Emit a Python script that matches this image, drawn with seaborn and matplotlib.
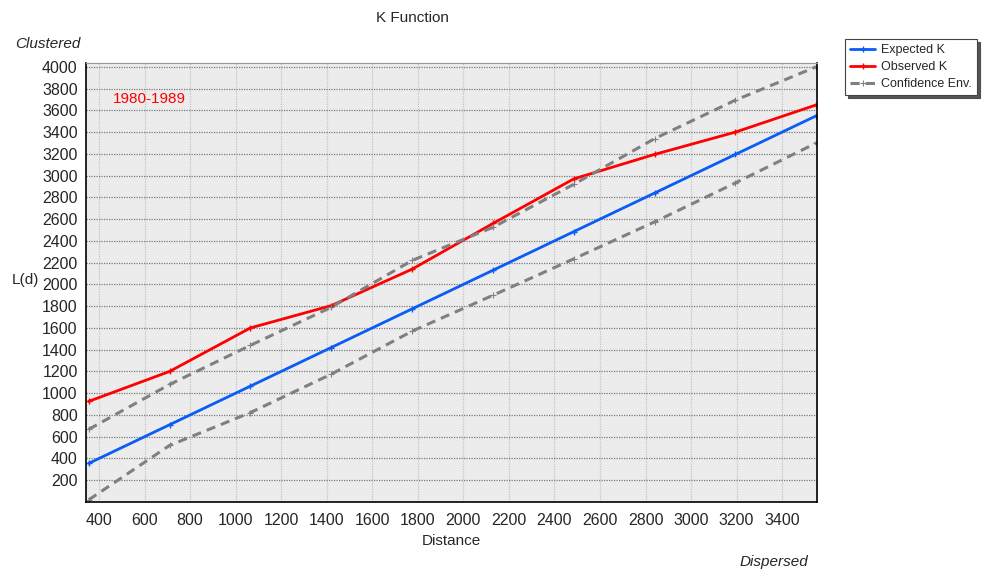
import numpy as np
import pandas as pd
import matplotlib
matplotlib.use("Agg")
import matplotlib.pyplot as plt
import seaborn as sns

# K function values
distance = [355, 710, 1065, 1420, 1775, 2130, 2485, 2840, 3195, 3550]
expected_k = [355, 710, 1065, 1420, 1775, 2130, 2485, 2840, 3195, 3550]
observed_k = [925, 1200, 1600, 1805, 2140, 2560, 2970, 3195, 3400, 3650]
upper_env = [668, 1080, 1440, 1790, 2220, 2525, 2920, 3340, 3694, 4000]
lower_env = [20, 520, 822, 1175, 1570, 1900, 2235, 2575, 2933, 3300]

xticks = list(range(400, 3401, 200))
yticks = list(range(200, 4001, 200))

sns.set_style("white")
plt.rcParams['font.family'] = ['Liberation Sans', 'DejaVu Sans']

fig = plt.figure(figsize=(9.89, 5.75), dpi=100)
ax = fig.add_axes([86/989, 1-502/575, (817-86)/989, (502-63)/575])
ax.set_facecolor('#ececec')

blue, red, gray = '#0a5cf5', '#ff0000', '#808080'
sns.lineplot(x=distance, y=expected_k, ax=ax, color=blue, lw=2,
             marker='+', markersize=5, mew=1, mec=blue, label='Expected K')
sns.lineplot(x=distance, y=observed_k, ax=ax, color=red, lw=2,
             marker='+', markersize=5, mew=1, mec=red, label='Observed K')
sns.lineplot(x=distance, y=upper_env, ax=ax, color=gray, lw=2.2,
             linestyle=(0, (3, 2)), marker='+', markersize=5, mew=0.8, mec=gray,
             label='Confidence Env.')
sns.lineplot(x=distance, y=lower_env, ax=ax, color=gray, lw=2.2,
             linestyle=(0, (3, 2)), marker='+', markersize=5, mew=0.8, mec=gray)

ax.set_xlim(343, 3553)
ax.set_ylim(0, 4035)
ax.set_xticks(xticks)
ax.set_yticks(yticks)
ax.tick_params(axis='both', labelsize=11.5, length=4, width=0.8, color='#555555',
               direction='out', pad=2)
ax.tick_params(axis='x', pad=4)
ax.xaxis.grid(True, color='#c4c4c4', linestyle=(0, (1, 1)), lw=0.9)
ax.yaxis.grid(True, color='#7a7a7a', linestyle=(0, (1, 1)), lw=0.9)
ax.set_axisbelow(True)
for side in ['left', 'bottom', 'right', 'top']:
    ax.spines[side].set_visible(True)
    ax.spines[side].set_color('black')
    ax.spines[side].set_linewidth(1.2)
ax.spines['top'].set_color('#999999')
ax.spines['top'].set_linewidth(0.8)

ax.set_xlabel('Distance', fontsize=11, labelpad=4)
ax.set_ylabel('')
fig.text(25/989, 1-280/575, 'L(d)', fontsize=11, ha='center', va='center')
ax.text(460, 3700, '1980-1989', color=red, fontsize=11, va='center')

fig.text(412/989, 1-18/575, 'K Function', fontsize=11, ha='center', va='center')
fig.text(15/989, 1-44/575, 'Clustered', fontsize=11, style='italic', va='center')
fig.text(808/989, 1-562/575, 'Dispersed', fontsize=11, style='italic',
         ha='right', va='center')

ax.legend_.remove()
handles, labels = ax.get_legend_handles_labels()
leg = fig.legend(handles[:3], labels[:3], loc='upper left',
                 bbox_to_anchor=(845/989, 1-39/575), fontsize=9,
                 frameon=True, fancybox=False, shadow={'color': '#444444', 'alpha': 0.9},
                 edgecolor='#444444', handlelength=2.0, borderpad=0.4,
                 labelspacing=0.4, handletextpad=0.5, borderaxespad=0)
leg.get_frame().set_linewidth(0.8)

fig.savefig('out.png', dpi=100)
